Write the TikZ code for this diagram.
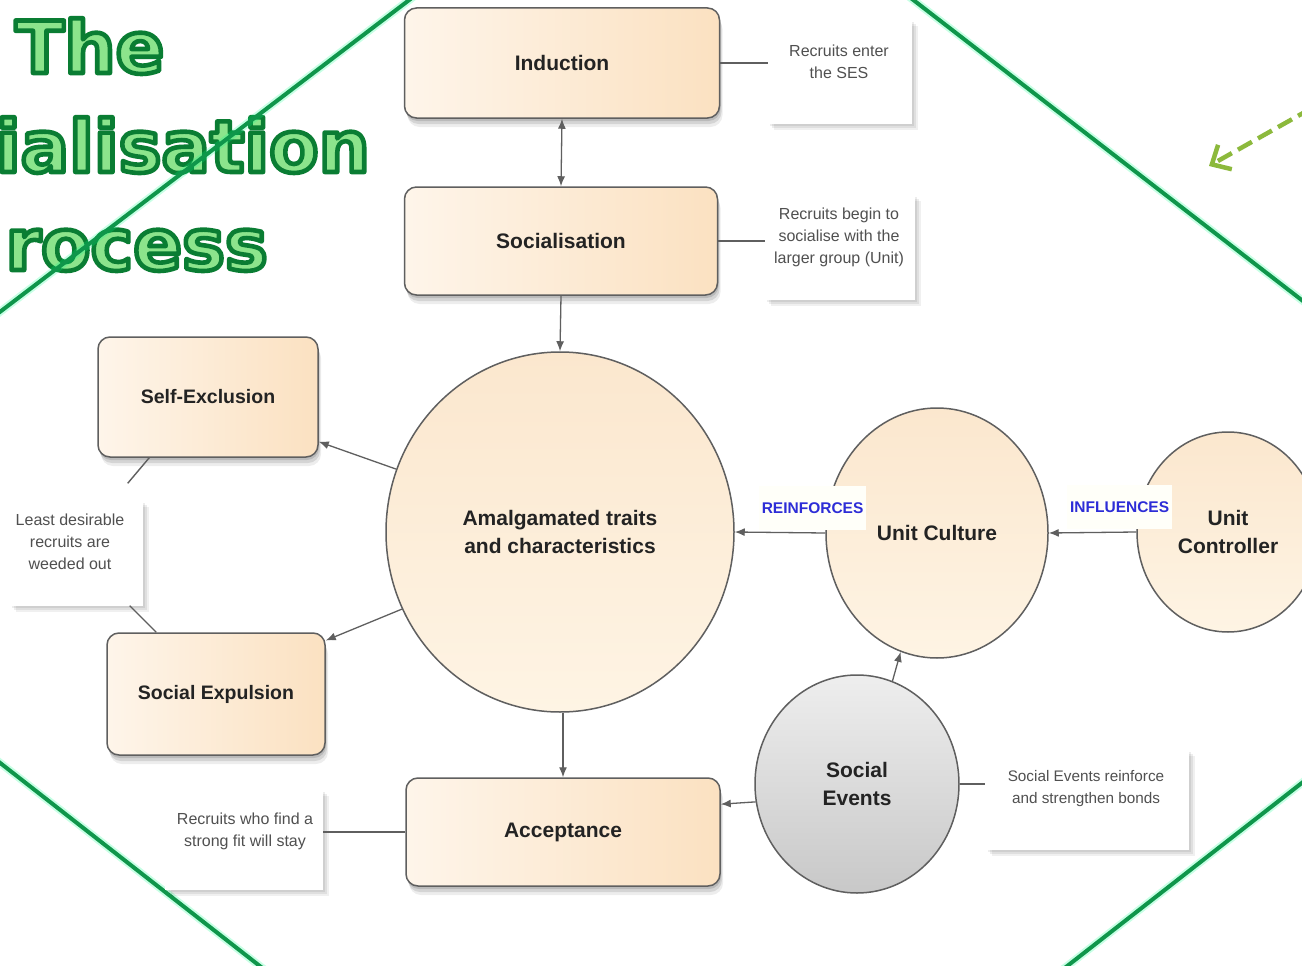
\documentclass[tikz,border=0pt]{standalone}
\usepackage{fontspec}
\setmainfont{Liberation Sans}
\newfontfamily\titlefont{DejaVu Sans}
\usetikzlibrary{arrows.meta,shapes.geometric,shadows,calc}
\definecolor{tdark}{RGB}{10,125,50}
\definecolor{tlight}{RGB}{140,228,140}
\definecolor{dline}{RGB}{15,150,75}
\definecolor{gdash}{RGB}{140,185,60}
\definecolor{boxl}{RGB}{254,245,234}
\definecolor{boxr}{RGB}{251,225,193}
\definecolor{cirt}{RGB}{251,231,206}
\definecolor{cirb}{RGB}{254,244,228}
\definecolor{sel}{RGB}{238,238,238}
\definecolor{sed}{RGB}{200,200,200}
\definecolor{edgec}{RGB}{95,95,95}
\definecolor{txt}{RGB}{35,35,35}
\definecolor{ntxt}{RGB}{80,80,80}
\definecolor{lblue}{RGB}{45,45,215}
\definecolor{lblbg}{RGB}{255,255,249}
% outlined text: fill light green, stroke dark green (PDF text render mode 2)
\newcommand{\outlinetxt}[1]{{\special{x:gsave}\color{tlight}\special{pdf:code 0.04 0.49 0.2 RG 4.6 w 1 j 2 Tr}#1\special{pdf:code 0 Tr}\special{x:grestore}}}
\tikzset{
  titletxt/.style={inner sep=0pt, text=tlight, font=\titlefont\bfseries\fontsize{72}{80}\selectfont},
  stagebox/.style={draw=edgec, line width=1.5pt, rounded corners=12pt,
    left color=boxl, right color=boxr, text=txt, align=center,
    font=\bfseries\fontsize{21}{28}\selectfont,
    drop shadow={shadow xshift=1pt, shadow yshift=-3pt, opacity=0.12, fill=black},
    drop shadow={shadow xshift=2pt, shadow yshift=-6pt, opacity=0.10, fill=black},
    drop shadow={shadow xshift=3pt, shadow yshift=-9pt, opacity=0.07, fill=black}},
  bubble/.style={ellipse, draw=edgec, line width=1.5pt, inner sep=0pt,
    top color=cirt, bottom color=cirb, text=txt, align=center,
    font=\bfseries\fontsize{21}{28}\selectfont},
  greybubble/.style={bubble, top color=sel, bottom color=sed},
  notebox/.style={rectangle, fill=white, inner sep=0pt,
    drop shadow={shadow xshift=2pt, shadow yshift=-2pt, opacity=0.07, fill=black},
    drop shadow={shadow xshift=4pt, shadow yshift=-4pt, opacity=0.07, fill=black},
    drop shadow={shadow xshift=6pt, shadow yshift=-6pt, opacity=0.06, fill=black}},
  notetxt/.style={inner sep=0pt, text=ntxt, align=center,
    font=\fontsize{16}{22}\selectfont},
  arr/.style={draw=edgec, line width=1.3pt, -{Latex[length=10pt,width=8pt]}},
  dblarr/.style={draw=edgec, line width=1.3pt, {Latex[length=10pt,width=8pt]}-{Latex[length=10pt,width=8pt]}},
  conn/.style={draw=edgec, line width=1.4pt},
  flowlbl/.style={inner xsep=3pt, inner ysep=0pt, minimum height=44pt, fill=lblbg,
    text=lblue, font=\bfseries\fontsize{15.5}{18}\selectfont},
  diag/.style={draw=dline, line width=4pt},
  diagglow/.style={draw=green!45!cyan, line width=8pt, opacity=0.22}
}
\begin{document}
\begin{tikzpicture}[x=1pt,y=-1pt]
\useasboundingbox (0,0) rectangle (1302,966);
\fill[white] (0,0) rectangle (1302,966);

% title
\node[titletxt, anchor=base west] (t1) at (15,73) {\outlinetxt{The}};
\node[titletxt, anchor=base east] (t2) at (370,172) {\outlinetxt{ialisation}};
\node[titletxt, anchor=base east] (t3) at (268,270) {\outlinetxt{rocess}};

% green diamond lines
\coordinate (dA1) at (-12,321); \coordinate (dA2) at (421,-9);
\coordinate (dB1) at (903,-8);  \coordinate (dB2) at (1312,308);
\coordinate (dC1) at (-10,755); \coordinate (dC2) at (270,974);
\coordinate (dD1) at (1312,775); \coordinate (dD2) at (1057,974);
\foreach \a/\b in {dA1/dA2,dB1/dB2,dC1/dC2,dD1/dD2}{
  \draw[diagglow] (\a) -- (\b);
  \draw[diag] (\a) -- (\b);
}

% dashed green arrow
\coordinate (ga1) at (1312,108);
\coordinate (ga2) at (1209,166);
\draw[draw=gdash, line width=4.5pt, dash pattern=on 16pt off 7pt,
  -{Straight Barb[length=15pt,width=28pt,line width=4.5pt]}] (ga1) -- (ga2);

% notes
\node[notebox, minimum width=144pt, minimum height=104pt] (n1) at (840,72) {};
\node[notetxt] (n1t) at (839,62) {Recruits enter\\the SES};
\node[notebox, minimum width=150pt, minimum height=105pt] (n2) at (840,247) {};
\node[notetxt] (n2t) at (839,237) {Recruits begin to\\socialise with the\\larger group (Unit)};
\node[notebox, minimum width=133pt, minimum height=105pt] (n3) at (76,553) {};
\node[notetxt] (n3t) at (70,542) {Least desirable\\recruits are\\weeded out};
\node[notebox, minimum width=158pt, minimum height=100pt] (n4) at (244,840) {};
\node[notetxt] (n4t) at (245,831) {Recruits who find a\\strong fit will stay};
\node[notebox, minimum width=203pt, minimum height=100pt] (n5) at (1087,800) {};
\node[notetxt, font=\fontsize{15.3}{22}\selectfont] (n5t) at (1086,789) {Social Events reinforce\\and strengthen bonds};

% stages
\node[stagebox, minimum width=315pt, minimum height=110pt] (ind) at (562,63) {Induction};
\node[stagebox, minimum width=313pt, minimum height=108pt] (soc) at (561,241) {Socialisation};
\node[stagebox, minimum width=220pt, minimum height=120pt, font=\bfseries\fontsize{19.5}{26}\selectfont] (selfex) at (208,397) {Self-Exclusion};
\node[stagebox, minimum width=218pt, minimum height=122pt, font=\bfseries\fontsize{19.5}{26}\selectfont] (socexp) at (216,694) {Social Expulsion};
\node[stagebox, minimum width=314pt, minimum height=108pt] (acc) at (563,832) {Acceptance};

% circles
\node[bubble, minimum width=348pt, minimum height=360pt] (amal) at (560,532) {Amalgamated traits\\and characteristics};
\node[bubble, minimum width=222pt, minimum height=250pt] (uc) at (937,533) {Unit Culture};
\node[bubble, minimum width=182pt, minimum height=200pt] (ucon) at (1228,532) {Unit\\Controller};
\node[greybubble, minimum width=204pt, minimum height=218pt] (se) at (857,784) {Social\\Events};

% flow labels (drawn before the arrows, their ground hides the circle rims)
\path (uc.west) -- node[flowlbl, pos=0.14, yshift=25pt] (lbl1) {REINFORCES} (amal.east);
\path (ucon.west) -- node[flowlbl, pos=0.19, yshift=25pt] (lbl2) {INFLUENCES} (uc.east);

% connectors
\draw[dblarr] (ind.south) -- (soc.north);
\draw[arr] (soc.south) -- (amal.north);
\draw[arr] (acc.north |- amal.south) -- (acc.north);
\draw[arr] (amal.159) -- (selfex.-22);
\draw[arr] (amal.206) -- (socexp.26);
\draw[arr] (uc.west) -- (amal.east);
\draw[arr] (ucon.west) -- (uc.east);
\draw[arr] (se.71) -- (uc.253);
\draw[arr] (se.190) -- (acc.10);

% note connectors
\draw[conn] (ind.east) -- (ind.east -| n1.west);
\draw[conn] (soc.east) -- (soc.east -| n2.west);
\draw[conn] (acc.west) -- (acc.west -| n4.east);
\draw[conn] (se.east) -- (se.east -| n5.west);
\coordinate (c3a) at ($(n3.north east)+(-15,-17)$);
\coordinate (c3b) at ($(n3.south east)+(-13,0)$);
\draw[conn] ($(selfex.south west)+(52,0)$) -- (c3a);
\draw[conn] (c3b) -- ($(socexp.north west)+(50,0)$);
\end{tikzpicture}
\end{document}
